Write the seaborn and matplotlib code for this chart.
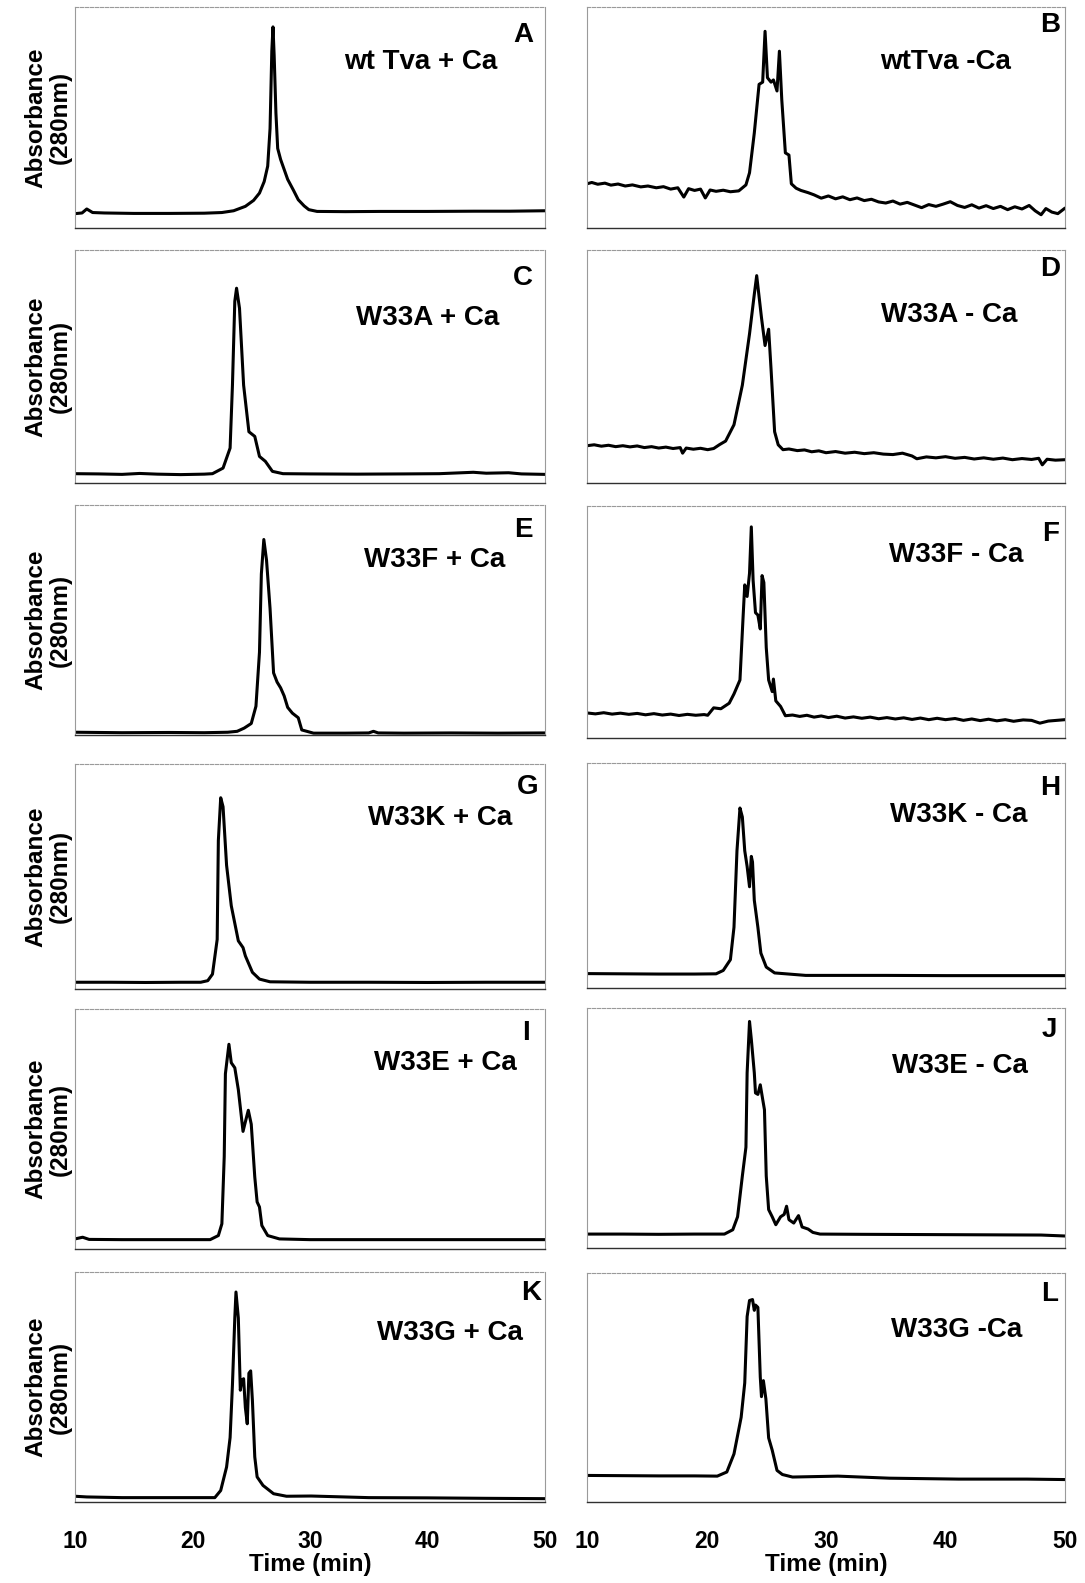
import numpy as np
import pandas as pd
import matplotlib
matplotlib.use("Agg")
import matplotlib.pyplot as plt
import seaborn as sns

# ---------------- data (time in min, absorbance in % of panel height) ----------------
A_time = [10, 10.6, 11.0, 11.5, 12.5, 15, 18, 21, 22.5, 23.5, 24.5, 25.2, 25.7, 26.1, 26.4, 26.6, 26.75, 26.85, 26.95, 27.1, 27.25, 27.5, 28.1, 28.6, 29.0, 29.5, 29.9, 30.6, 33, 36, 40, 44, 47, 50]
A_abs = [6.5, 6.8, 8.6, 7.0, 6.8, 6.6, 6.6, 6.7, 7.0, 7.8, 9.8, 12.5, 15.8, 21, 28, 45, 80, 91, 78, 52, 36, 31, 22, 17, 12.8, 10, 8.3, 7.5, 7.4, 7.5, 7.5, 7.6, 7.6, 7.8]

B_time = [10, 10.4, 10.9, 11.5, 12.0, 12.6, 13.2, 13.8, 14.5, 15.1, 15.8, 16.4, 17.0, 17.6, 18.1, 18.5, 19.0, 19.5, 19.9, 20.3, 20.8, 21.4, 22.0, 22.7, 23.3, 23.6, 24.0, 24.4, 24.7, 24.9, 25.1, 25.4, 25.6, 25.9, 26.1, 26.3, 26.6, 26.9, 27.1, 27.5, 27.9, 28.5, 29.0, 29.6, 30.2, 30.8, 31.4, 32.0, 32.6, 33.2, 33.8, 34.4, 35.0, 35.6, 36.2, 36.8, 37.4, 38.0, 38.6, 39.2, 39.8, 40.4, 41.0, 41.6, 42.2, 42.8, 43.4, 44.0, 44.6, 45.2, 45.8, 46.4, 47.0, 47.5, 48.0, 48.4, 48.9, 49.4, 50.0]
B_abs = [20, 20.6, 19.8, 20.3, 19.4, 19.9, 19.0, 19.5, 18.6, 19.0, 18.2, 18.7, 17.6, 18.2, 14.0, 17.8, 17.0, 17.6, 13.6, 17.2, 16.6, 17.1, 16.4, 16.8, 19.5, 25, 43, 65, 66, 89, 68, 66, 67, 62, 80, 58, 34, 33, 20, 18, 17, 16.0, 15.0, 13.5, 14.5, 13.2, 14.1, 12.8, 13.6, 12.4, 13.0, 11.8, 11.3, 12.2, 10.8, 11.6, 10.4, 9.2, 10.6, 9.8, 10.8, 11.9, 10.2, 9.3, 10.5, 9.0, 10.1, 8.8, 9.8, 8.3, 9.6, 8.6, 10.2, 7.8, 6.0, 8.8, 7.2, 6.5, 9.0]

C_time = [10, 12, 14, 15.5, 17, 19, 21, 21.7, 22.6, 23.2, 23.4, 23.6, 23.75, 24.0, 24.35, 24.8, 25.3, 25.7, 26.2, 26.8, 27.7, 30, 34, 38, 41, 43.9, 45, 46.9, 48, 50]
C_abs = [4.0, 3.9, 3.7, 4.1, 3.8, 3.6, 3.8, 4.0, 6.4, 15, 42, 78, 83.6, 75, 42, 22, 20, 11.4, 9.3, 5.0, 4.0, 3.9, 3.8, 3.9, 4.0, 4.6, 4.2, 4.4, 3.9, 3.7]

D_time = [10, 10.6, 11.2, 11.8, 12.4, 13.0, 13.6, 14.2, 14.8, 15.4, 16.0, 16.6, 17.2, 17.8, 18.0, 18.3, 18.9, 19.5, 20.1, 20.6, 21.1, 21.6, 22.3, 23.0, 23.6, 24.0, 24.2, 24.6, 24.9, 25.2, 25.4, 25.7, 26.0, 26.4, 26.9, 27.6, 28.2, 28.8, 29.4, 30.0, 30.8, 31.6, 32.4, 33.2, 34.0, 34.8, 35.6, 36.4, 37.2, 37.6, 38.4, 39.2, 40.0, 40.8, 41.6, 42.4, 43.2, 44.0, 44.8, 45.6, 46.4, 47.2, 47.8, 48.1, 48.5, 49.2, 50.0]
D_abs = [16.0, 16.4, 15.8, 16.2, 15.6, 16.0, 15.5, 15.9, 15.2, 15.6, 15.0, 15.4, 14.8, 15.2, 12.8, 15.0, 14.5, 14.9, 14.3, 14.8, 16.5, 18.0, 25, 42, 64, 81, 89, 71, 59, 66, 49, 22, 16.4, 14.3, 14.6, 13.9, 14.2, 13.4, 13.8, 13.0, 13.5, 12.8, 13.2, 12.6, 13.0, 12.4, 12.2, 12.8, 11.6, 10.4, 11.2, 10.8, 11.3, 10.6, 11.0, 10.3, 10.8, 10.2, 10.7, 10.0, 10.5, 10.1, 10.6, 7.8, 10.2, 9.8, 10.0]

E_time = [10, 14, 18, 21, 23, 23.8, 24.4, 25.0, 25.4, 25.7, 25.86, 26.07, 26.3, 26.6, 26.9, 27.2, 27.5, 27.8, 28.1, 28.5, 29.0, 29.3, 30.3, 33, 35.0, 35.4, 35.8, 38, 42, 46, 50]
E_abs = [1.2, 1.0, 1.1, 1.0, 1.2, 1.6, 3.0, 5.0, 12.5, 36, 70, 85, 76, 55, 27, 23, 20.5, 17, 12, 9.5, 7.5, 2.2, 0.8, 0.8, 0.9, 1.6, 0.9, 0.8, 0.9, 0.8, 0.9]

F_time = [10, 10.7, 11.4, 12.1, 12.8, 13.5, 14.2, 14.9, 15.6, 16.3, 17.0, 17.7, 18.4, 19.1, 19.8, 20.1, 20.6, 21.2, 21.9, 22.3, 22.8, 23.05, 23.2, 23.4, 23.6, 23.75, 23.9, 24.1, 24.3, 24.5, 24.65, 24.8, 25.0, 25.2, 25.5, 25.6, 25.8, 26.2, 26.6, 27.2, 27.8, 28.4, 29.0, 29.6, 30.2, 30.9, 31.6, 32.3, 33.0, 33.7, 34.4, 35.1, 35.8, 36.5, 37.2, 37.9, 38.6, 39.3, 40.0, 40.8, 41.5, 42.2, 42.9, 43.6, 44.3, 45.0, 45.7, 46.5, 47.2, 47.9, 48.6, 49.3, 50.0]
F_abs = [10.8, 10.4, 10.9, 10.3, 10.7, 10.2, 10.6, 10.0, 10.5, 9.9, 10.3, 9.7, 10.2, 9.8, 10.1, 9.8, 13.0, 12.6, 15.0, 19.0, 25, 51, 66, 61, 71, 91, 68, 54, 53, 47, 70, 67, 39, 25, 20, 25.4, 16, 13.6, 9.6, 9.9, 9.3, 9.8, 9.0, 9.5, 8.8, 9.4, 8.6, 9.1, 8.5, 9.0, 8.3, 8.8, 8.2, 8.7, 8.0, 8.6, 7.9, 8.5, 7.9, 8.4, 7.6, 8.2, 7.5, 8.1, 7.4, 7.9, 7.2, 7.8, 7.6, 6.4, 7.3, 7.6, 7.9]

G_time = [10, 13, 16, 19, 20.7, 21.3, 21.7, 22.1, 22.2, 22.4, 22.6, 22.9, 23.3, 23.9, 24.3, 24.5, 25.1, 25.7, 26.6, 30, 35, 40, 45, 50]
G_abs = [3.0, 3.0, 2.9, 3.0, 3.0, 3.7, 6.6, 22, 66, 85, 81, 55, 37, 21.4, 18.4, 14.7, 7.4, 4.4, 3.2, 3.0, 3.0, 2.9, 3.0, 3.0]

H_time = [10, 13, 16, 19, 20.8, 21.4, 22.0, 22.3, 22.55, 22.8, 23.0, 23.2, 23.4, 23.6, 23.75, 23.85, 24.0, 24.3, 24.55, 25.0, 25.7, 28.3, 32, 35, 40, 44, 50]
H_abs = [6.4, 6.3, 6.2, 6.2, 6.3, 7.8, 12.6, 27, 61, 80, 76, 61, 54, 45, 58.5, 56, 39, 27, 15.5, 9.3, 6.7, 5.6, 5.6, 5.6, 5.5, 5.5, 5.5]

I_time = [10, 10.65, 11.2, 14, 18, 21.5, 22.2, 22.5, 22.7, 22.8, 23.1, 23.3, 23.6, 23.9, 24.3, 24.5, 24.75, 25.0, 25.3, 25.5, 25.7, 25.9, 26.4, 27.4, 30, 35, 40, 45, 50]
I_abs = [4.2, 4.9, 4.0, 3.9, 3.9, 3.9, 5.6, 10.5, 38.5, 73, 85.3, 77.6, 75.5, 66.4, 49, 53, 57.8, 52, 30, 19.6, 17.5, 9.8, 5.6, 4.2, 3.9, 3.9, 3.9, 3.9, 3.9]

J_time = [10, 13, 16, 19, 21.5, 22.2, 22.6, 23.0, 23.3, 23.4, 23.6, 23.75, 24.0, 24.1, 24.3, 24.5, 24.7, 24.85, 25.0, 25.2, 25.5, 25.8, 26.2, 26.5, 26.7, 26.9, 27.3, 27.7, 28.0, 28.5, 28.9, 29.5, 33, 38, 43, 48, 50]
J_abs = [5.8, 5.8, 5.7, 5.8, 5.8, 7.6, 13, 30, 42, 73, 94.4, 87, 73, 64.6, 64, 68, 62, 57.6, 30, 16, 13, 9.7, 13, 14, 17.4, 11.8, 10.4, 13.5, 8.75, 7.9, 6.5, 5.8, 5.7, 5.6, 5.5, 5.4, 5.0]

K_time = [10, 11, 14, 18, 21.9, 22.4, 22.9, 23.2, 23.4, 23.6, 23.7, 23.9, 24.07, 24.2, 24.35, 24.5, 24.66, 24.8, 24.95, 25.1, 25.3, 25.5, 26.0, 26.9, 28.0, 30.1, 35, 40, 45, 50]
K_abs = [2.5, 2.2, 1.9, 1.9, 1.9, 5.0, 15.2, 28, 51, 80, 91.3, 80, 48.6, 53, 53.6, 41, 34, 56, 57, 44, 19.6, 10.9, 7.2, 3.6, 2.5, 2.6, 1.9, 1.8, 1.6, 1.45]

L_time = [10, 13, 16, 19, 20.9, 21.7, 22.3, 22.9, 23.2, 23.4, 23.6, 23.85, 24.0, 24.1, 24.3, 24.5, 24.6, 24.76, 24.97, 25.2, 25.5, 25.9, 26.35, 27.2, 31, 35.3, 41.1, 46.8, 50]
L_abs = [11.6, 11.5, 11.4, 11.4, 11.3, 13.1, 21, 37, 52, 81, 88, 88.4, 83.7, 86, 85, 54.6, 46, 53, 45, 28, 22.6, 13.8, 12, 10.9, 11.3, 10.4, 10.0, 10.0, 9.8]

panel_letters = ["A", "B", "C", "D", "E", "F", "G", "H", "I", "J", "K", "L"]
panel_titles = ["wt Tva + Ca", "wtTva -Ca", "W33A + Ca", "W33A - Ca", "W33F + Ca", "W33F - Ca",
                "W33K + Ca", "W33K - Ca", "W33E + Ca", "W33E - Ca", "W33G + Ca", "W33G -Ca"]
x_ticks = [10, 20, 30, 40, 50]
y_label = "Absorbance\n(280nm)"
x_label = "Time (min)"

series = {
    "A": (A_time, A_abs), "B": (B_time, B_abs), "C": (C_time, C_abs), "D": (D_time, D_abs),
    "E": (E_time, E_abs), "F": (F_time, F_abs), "G": (G_time, G_abs), "H": (H_time, H_abs),
    "I": (I_time, I_abs), "J": (J_time, J_abs), "K": (K_time, K_abs), "L": (L_time, L_abs),
}
frames = []
for k, (t, a) in series.items():
    assert len(t) == len(a), k
    frames.append(pd.DataFrame({"panel": k, "time": t, "abs": a}))
df = pd.concat(frames, ignore_index=True)

# ---------------- style ----------------
sns.set_style("white")
plt.rcParams["font.family"] = ["Liberation Sans", "DejaVu Sans"]
plt.rcParams["font.weight"] = "bold"
plt.rcParams["text.color"] = "black"
plt.rcParams["axes.labelcolor"] = "black"
plt.rcParams["xtick.color"] = "black"
plt.rcParams["xtick.labelcolor"] = "black"

W, H = 1085, 1583
fig = plt.figure(figsize=(W / 100, H / 100), dpi=100)

cols = [(75, 470), (587, 478)]
rows_left = [(7, 228), (250, 483), (505, 735), (764, 989), (1009, 1249), (1272, 1502)]
rows_right = [(7, 228), (250, 483), (506, 738), (763, 988), (1008, 1248), (1273, 1502)]

title_pos = {
    "A": (0.735, 0.75), "B": (0.749, 0.75), "C": (0.75, 0.71), "D": (0.758, 0.72),
    "E": (0.766, 0.76), "F": (0.773, 0.79), "G": (0.777, 0.76), "H": (0.778, 0.77),
    "I": (0.789, 0.775), "J": (0.78, 0.76), "K": (0.798, 0.735), "L": (0.774, 0.75),
}
letter_pos = {
    "A": (0.953, 0.875), "B": (0.968, 0.92), "C": (0.953, 0.88), "D": (0.968, 0.92),
    "E": (0.953, 0.89), "F": (0.97, 0.88), "G": (0.964, 0.90), "H": (0.97, 0.89),
    "I": (0.96, 0.90), "J": (0.967, 0.91), "K": (0.97, 0.91), "L": (0.967, 0.91),
}

for i, letter in enumerate(panel_letters):
    r, c = divmod(i, 2)
    left, width = cols[c]
    top, bottom = (rows_left if c == 0 else rows_right)[r]
    ax = fig.add_axes([left / W, 1 - bottom / H, width / W, (bottom - top) / H])
    sub = df[df["panel"] == letter]
    sns.lineplot(data=sub, x="time", y="abs", ax=ax, color="black", linewidth=2.2,
                 estimator=None, sort=False, legend=False)
    ax.set_xlim(10, 50)
    ax.set_ylim(0, 100)
    ax.set_xticks(x_ticks)
    ax.set_yticks([])
    ax.set_xlabel("")
    ax.set_ylabel("")
    for name, sp in ax.spines.items():
        sp.set_visible(True)
        sp.set_color("#9a9a9a")
        sp.set_linewidth(0.8)
    ax.spines["top"].set_linestyle((0, (3, 1.5)))
    ax.spines["bottom"].set_color("#303030")
    ax.spines["bottom"].set_linewidth(1.0)
    ax.tick_params(axis="x", direction="out", length=5, width=1.0, color="#303030",
                   labelsize=16.5, pad=15)
    if r < 5:
        ax.tick_params(axis="x", labelbottom=False)
    else:
        for lab in ax.get_xticklabels():
            lab.set_fontweight("bold")
        ax.set_xlabel(x_label, fontsize=17.5, fontweight="bold", labelpad=0)
    tx, ty = title_pos[letter]
    ax.text(tx, ty, panel_titles[i], transform=ax.transAxes, ha="center", va="center",
            fontsize=20, fontweight="bold")
    lx, ly = letter_pos[letter]
    ax.text(lx, ly, letter, transform=ax.transAxes, ha="center", va="center",
            fontsize=20, fontweight="bold")
    if c == 0:
        yc = 1 - (top + bottom) / 2 / H
        fig.text(48 / W, yc, y_label, rotation=90, ha="center", va="center",
                 multialignment="center", fontsize=17.5, fontweight="bold", linespacing=1.05)

fig.savefig("out.png", dpi=100)
